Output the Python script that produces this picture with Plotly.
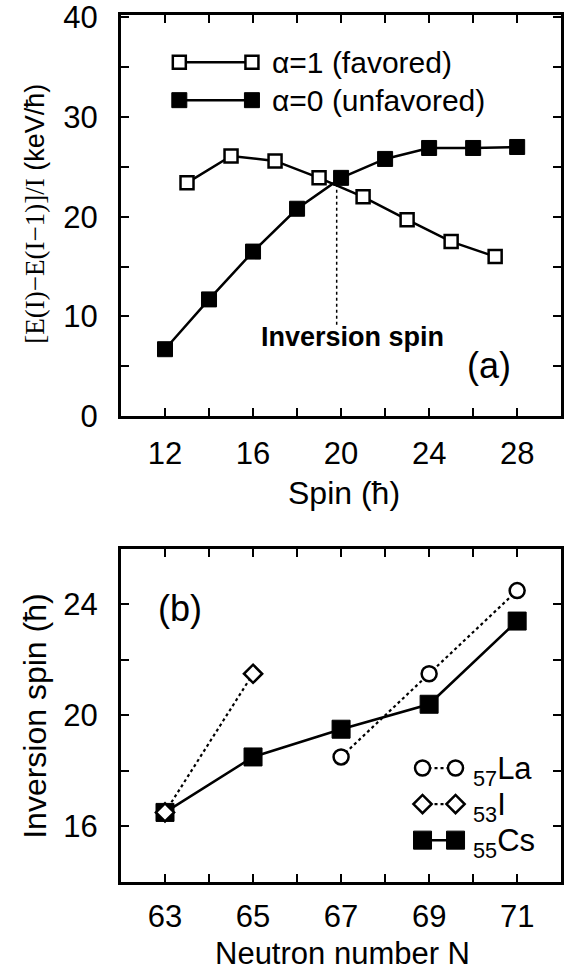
import plotly.graph_objects as go

# ---- Data: panel (a)
spin_fav = [13, 15, 17, 19, 21, 23, 25, 27]
e_fav = [23.4, 26.1, 25.6, 23.9, 22.0, 19.7, 17.5, 16.0]
spin_unf = [12, 14, 16, 18, 20, 22, 24, 26, 28]
e_unf = [6.7, 11.7, 16.5, 20.8, 23.9, 25.8, 26.9, 26.9, 27.0]
inversion_spin_a = 19.8

# ---- Data: panel (b)
n_la = [67, 69, 71]
spin_la = [18.5, 21.5, 24.5]
n_i = [63, 65]
spin_i = [16.5, 21.5]
n_cs = [63, 65, 67, 69, 71]
spin_cs = [16.5, 18.5, 19.5, 20.4, 23.4]

xticks_a = [12, 16, 20, 24, 28]
yticks_a = [0, 10, 20, 30, 40]
xticks_b = [63, 65, 67, 69, 71]
yticks_b = [16, 20, 24]

FONT = "Liberation Sans, Arial, Helvetica, sans-serif"
BLACK = "black"

fig = go.Figure()

# panel (a) data
fig.add_trace(go.Scatter(x=spin_fav, y=e_fav, mode="lines+markers",
                         line=dict(color=BLACK, width=2.5),
                         marker=dict(symbol="square", size=13, color="white",
                                     line=dict(color=BLACK, width=2.5)),
                         xaxis="x", yaxis="y", showlegend=False))
fig.add_trace(go.Scatter(x=spin_unf, y=e_unf, mode="lines+markers",
                         line=dict(color=BLACK, width=2.5),
                         marker=dict(symbol="square", size=15, color=BLACK,
                                     line=dict(color=BLACK, width=1)),
                         xaxis="x", yaxis="y", showlegend=False))

# legend samples panel (a)
leg_a_x = [12.65, 15.95]
fig.add_trace(go.Scatter(x=leg_a_x, y=[35.5, 35.5], mode="lines+markers",
                         line=dict(color=BLACK, width=2.5),
                         marker=dict(symbol="square", size=13, color="white",
                                     line=dict(color=BLACK, width=2.5)),
                         xaxis="x", yaxis="y", showlegend=False))
fig.add_trace(go.Scatter(x=leg_a_x, y=[31.7, 31.7], mode="lines+markers",
                         line=dict(color=BLACK, width=2.5),
                         marker=dict(symbol="square", size=15, color=BLACK,
                                     line=dict(color=BLACK, width=1)),
                         xaxis="x", yaxis="y", showlegend=False))

# panel (b) data
fig.add_trace(go.Scatter(x=n_cs, y=spin_cs, mode="lines+markers",
                         line=dict(color=BLACK, width=2.5),
                         marker=dict(symbol="square", size=18, color=BLACK,
                                     line=dict(color=BLACK, width=1)),
                         xaxis="x2", yaxis="y2", showlegend=False))
fig.add_trace(go.Scatter(x=n_la, y=spin_la, mode="lines+markers",
                         line=dict(color=BLACK, width=2.2, dash="dot"),
                         marker=dict(symbol="circle", size=15, color="white",
                                     line=dict(color=BLACK, width=2.5)),
                         xaxis="x2", yaxis="y2", showlegend=False))
fig.add_trace(go.Scatter(x=n_i, y=spin_i, mode="lines+markers",
                         line=dict(color=BLACK, width=2.2, dash="dot"),
                         marker=dict(symbol="diamond", size=14, color="white",
                                     line=dict(color=BLACK, width=2.5)),
                         xaxis="x2", yaxis="y2", showlegend=False))

# legend samples panel (b)
leg_b_x = [68.85, 69.6]
fig.add_trace(go.Scatter(x=leg_b_x, y=[18.1, 18.1], mode="lines+markers",
                         line=dict(color=BLACK, width=2.2, dash="dot"),
                         marker=dict(symbol="circle", size=15, color="white",
                                     line=dict(color=BLACK, width=2.5)),
                         xaxis="x2", yaxis="y2", showlegend=False))
fig.add_trace(go.Scatter(x=leg_b_x, y=[16.8, 16.8], mode="lines+markers",
                         line=dict(color=BLACK, width=2.2, dash="dot"),
                         marker=dict(symbol="diamond", size=14, color="white",
                                     line=dict(color=BLACK, width=2.5)),
                         xaxis="x2", yaxis="y2", showlegend=False))
fig.add_trace(go.Scatter(x=leg_b_x, y=[15.5, 15.5], mode="lines+markers",
                         line=dict(color=BLACK, width=2.5),
                         marker=dict(symbol="square", size=18, color=BLACK,
                                     line=dict(color=BLACK, width=1)),
                         xaxis="x2", yaxis="y2", showlegend=False))

axis_common = dict(showline=True, linewidth=3, linecolor=BLACK, mirror="ticks",
                   ticks="inside", ticklen=8, tickwidth=2, tickcolor=BLACK,
                   showgrid=False, zeroline=False, ticklabeloverflow="allow",
                   automargin=False,
                   tickfont=dict(family=FONT, size=31, color=BLACK))
minor_common = dict(ticks="inside", ticklen=8, tickwidth=2, tickcolor=BLACK)

fig.update_layout(
    width=568, height=973,
    margin=dict(l=0, r=0, t=0, b=0),
    paper_bgcolor="white", plot_bgcolor="white",
    xaxis=dict(domain=[0.213, 0.988], anchor="y", range=[10, 30],
               tickvals=xticks_a, ticklabelstandoff=8,
               minor=dict(dtick=2, tick0=0, **minor_common),
               **axis_common),
    yaxis=dict(domain=[0.5725, 0.9846], anchor="x", range=[0, 40.25],
               tickvals=yticks_a, ticklabelstandoff=14,
               minor=dict(dtick=5, tick0=0, **minor_common),
               **axis_common),
    xaxis2=dict(domain=[0.213, 0.988], anchor="y2", range=[62, 72],
                tickvals=xticks_b, ticklabelstandoff=5,
                minor=dict(dtick=1, tick0=0, **minor_common),
                **axis_common),
    yaxis2=dict(domain=[0.0938, 0.4358], anchor="x2", range=[14, 26],
                tickvals=yticks_b, ticklabelstandoff=14,
                minor=dict(dtick=2, tick0=0, **minor_common),
                **axis_common),
    showlegend=False,
)

# dotted inversion-spin line
fig.add_shape(type="line", xref="x", yref="y", x0=inversion_spin_a, x1=inversion_spin_a,
              y0=23.3, y1=9.0, line=dict(color=BLACK, width=1.5, dash="dot"))

ann = []
def txt(text, x, y, xref, yref, size, xanchor="center", yanchor="middle", angle=0):
    ann.append(dict(text=text, x=x, y=y, xref=xref, yref=yref, showarrow=False,
                    xanchor=xanchor, yanchor=yanchor, textangle=angle,
                    font=dict(family=FONT, size=size, color=BLACK)))

txt("<b>Inversion spin</b>", 20.5, 7.9, "x", "y", 27)
txt("(a)", 26.7, 5.1, "x", "y", 36)
txt("α=1 (favored)", 16.75, 35.5, "x", "y", 30, xanchor="left")
txt("α=0 (unfavored)", 16.75, 31.7, "x", "y", 30, xanchor="left")
txt("(b)", 63.35, 23.85, "x2", "y2", 36)
txt("<sub>57</sub>La", 69.95, 18.0, "x2", "y2", 31, xanchor="left")
txt("<sub>53</sub>I", 69.95, 16.7, "x2", "y2", 31, xanchor="left")
txt("<sub>55</sub>Cs", 69.95, 15.4, "x2", "y2", 31, xanchor="left")

txt("Spin (ħ)", 0.606, 0.4933, "paper", "paper", 32)
txt("Neutron number N", 0.603, 0.0, "paper", "paper", 31, yanchor="bottom")
txt("<span style='font-family:Liberation Serif, Times New Roman, serif'>[E(I)−E(I−1)]/I</span> (keV/ħ)",
    0.061, 0.78, "paper", "paper", 27, angle=-90)
txt("Inversion spin (ħ)", 0.061, 0.264, "paper", "paper", 32, angle=-90)

fig.update_layout(annotations=ann)

fig.write_html("out.html")
